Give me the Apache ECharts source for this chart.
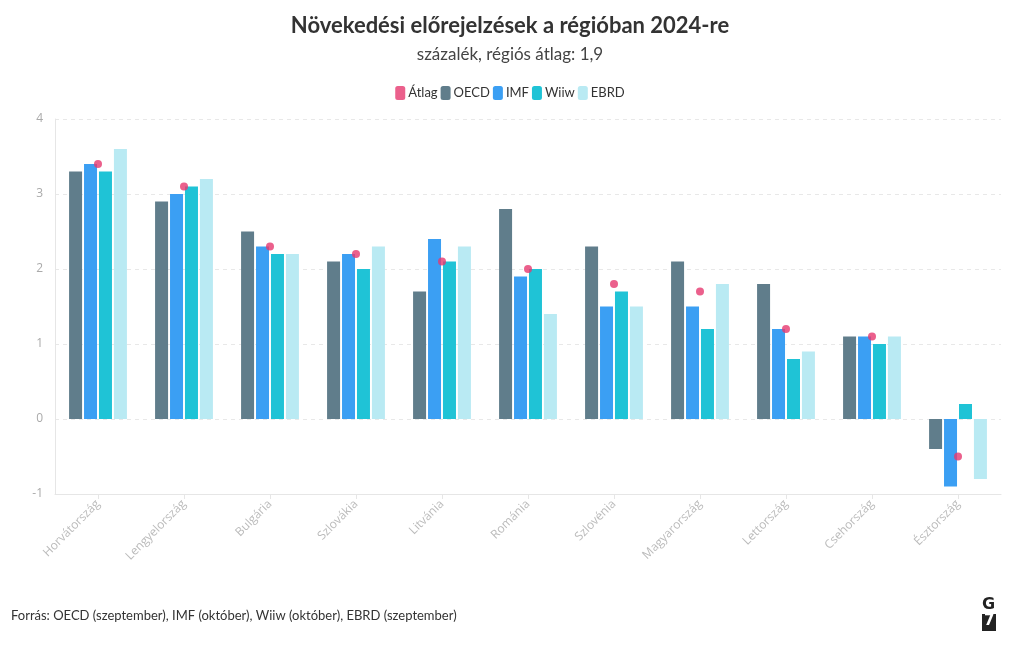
<!DOCTYPE html>
<html><head><meta charset="utf-8">
<script src="https://cdn.jsdelivr.net/npm/echarts@6/dist/echarts.min.js"></script>
<style>html,body{margin:0;padding:0;background:#fff}#c{width:1020px;height:650px}</style>
</head><body><div id="c"></div>
<script>
const categories = ['Horvátország','Lengyelország','Bulgária','Szlovákia','Litvánia','Románia','Szlovénia','Magyarország','Lettország','Csehország','Észtország'];
const atlag = [3.4, 3.1, 2.3, 2.2, 2.1, 2.0, 1.8, 1.7, 1.2, 1.1, -0.5];
const oecd  = [3.3, 2.9, 2.5, 2.1, 1.7, 2.8, 2.3, 2.1, 1.8, 1.1, -0.4];
const imf   = [3.4, 3.0, 2.3, 2.2, 2.4, 1.9, 1.5, 1.5, 1.2, 1.1, -0.9];
const wiiw  = [3.3, 3.1, 2.2, 2.0, 2.1, 2.0, 1.7, 1.2, 0.8, 1.0, 0.2];
const ebrd  = [3.6, 3.2, 2.2, 2.3, 2.3, 1.4, 1.5, 1.8, 0.9, 1.1, -0.8];
const yTicks = [-1, 0, 1, 2, 3, 4];

const FONT = 'Lato';
const chart = echarts.init(document.getElementById('c'), null, {renderer: 'canvas'});
const bar = (name, data, color) => ({
  name, type: 'bar', data, barWidth: 13, barGap: '15%',
  itemStyle: {color}, z: 2
});
chart.setOption({
  animation: false,
  textStyle: {fontFamily: FONT},
  title: [
    {text: 'Növekedési előrejelzések a régióban 2024-re', left: 'center', top: 10,
      textStyle: {fontFamily: FONT, fontSize: 22, fontWeight: 'bold', color: '#333'}},
    {text: 'százalék, régiós átlag: 1,9', left: 'center', top: 41,
      textStyle: {fontFamily: FONT, fontSize: 17, fontWeight: 'normal', color: '#444'}}
  ],
  legend: {
    top: 81, left: 'center', itemWidth: 10, itemHeight: 14, itemGap: 3,
    icon: 'roundRect',
    textStyle: {fontFamily: FONT, fontSize: 13, color: '#333', padding: [0, 0, 0, -2]},
    data: ['Átlag', 'OECD', 'IMF', 'Wiiw', 'EBRD']
  },
  grid: {left: 55, right: 19, top: 119, bottom: 156, containLabel: false},
  xAxis: {
    type: 'category', data: categories, position: 'bottom',
    axisLine: {onZero: false, lineStyle: {color: '#e6e6e6'}},
    axisTick: {show: true, alignWithLabel: true, length: 5, lineStyle: {color: '#e6e6e6'}},
    axisLabel: {rotate: 45, color: '#bbb', fontSize: 12, fontFamily: 'Open Sans', margin: 8, interval: 0}
  },
  yAxis: {
    type: 'value', min: -1, max: 4, interval: 1,
    axisLine: {show: true, lineStyle: {color: '#e6e6e6'}},
    axisTick: {show: false},
    axisLabel: {color: '#aaa', fontSize: 12, fontFamily: 'Open Sans', margin: 12,
      formatter: v => yTicks.includes(v) ? String(v) : ''},
    splitLine: {show: true, lineStyle: {color: '#e8e8e8', type: [4, 4]}}
  },
  series: [
    {name: 'Átlag', type: 'scatter', data: atlag, symbol: 'circle', symbolSize: 8,
      itemStyle: {color: '#e6386f'}, z: 5},
    bar('OECD', oecd, '#607d8b'),
    bar('IMF', imf, '#3b9ff3'),
    bar('Wiiw', wiiw, '#1fc3d6'),
    bar('EBRD', ebrd, '#b9eaf3')
  ],
  graphic: [
    {type: 'text', left: 11, top: 609, style: {text: 'Forrás: OECD (szeptember), IMF (október), Wiiw (október), EBRD (szeptember)', font: '13px ' + FONT, fill: '#333'}},
    {type: 'text', left: 982, top: 597, style: {text: 'G', font: 'bold 16px "DejaVu Sans"', fill: '#222'}},
    {type: 'rect', left: 982, top: 614, shape: {width: 14, height: 17}, style: {fill: '#222'}},
    {type: 'text', left: 984, top: 614, style: {text: '7', font: 'bold 15px "DejaVu Sans"', fill: '#fff'}}
  ]
});
</script></body></html>
